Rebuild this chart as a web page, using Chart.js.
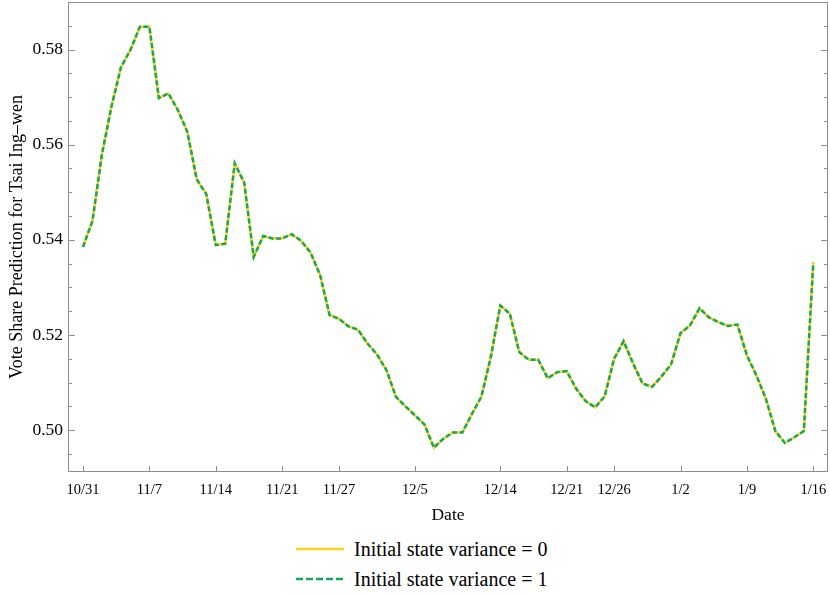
<!DOCTYPE html>
<html>
<head>
<meta charset="utf-8">
<title>Vote share prediction</title>
<script src="https://cdn.jsdelivr.net/npm/chart.js@4"></script>
<style>
  body { margin: 0; background: #fff; }
  #wrap { position: relative; width: 830px; height: 596px; }
  #legend { position: absolute; left: 0; top: 530px; width: 830px; height: 66px;
            font-family: 'Liberation Serif', 'Times New Roman', serif; font-size: 20px; color: #000; }
  .item { position: absolute; left: 296px; height: 24px; display: flex; align-items: center; white-space: nowrap; }
  .item svg { margin-right: 10px; }
</style>
</head>
<body>
<div id="wrap">
  <canvas id="voteChart" width="830" height="530"></canvas>
  <div id="legend">
    <div class="item" style="top:7px">
      <svg width="48" height="6"><line x1="0" y1="3" x2="48" y2="3" stroke="#ffd21a" stroke-width="2.5"/></svg>
      <span>Initial state variance = 0</span>
    </div>
    <div class="item" style="top:37px">
      <svg width="48" height="6"><line x1="0" y1="3" x2="48" y2="3" stroke="#14a85c" stroke-width="2.5" stroke-dasharray="7,3"/></svg>
      <span>Initial state variance = 1</span>
    </div>
  </div>
</div>
<script>
// fechas diarias del 10/31 al 1/16
const dates = [
  '10/31',
  '11/1', '11/2', '11/3', '11/4', '11/5', '11/6', '11/7', '11/8', '11/9', '11/10',
  '11/11', '11/12', '11/13', '11/14', '11/15', '11/16', '11/17', '11/18', '11/19', '11/20',
  '11/21', '11/22', '11/23', '11/24', '11/25', '11/26', '11/27', '11/28', '11/29', '11/30',
  '12/1', '12/2', '12/3', '12/4', '12/5', '12/6', '12/7', '12/8', '12/9', '12/10',
  '12/11', '12/12', '12/13', '12/14', '12/15', '12/16', '12/17', '12/18', '12/19', '12/20',
  '12/21', '12/22', '12/23', '12/24', '12/25', '12/26', '12/27', '12/28', '12/29', '12/30', '12/31',
  '1/1', '1/2', '1/3', '1/4', '1/5', '1/6', '1/7', '1/8', '1/9', '1/10',
  '1/11', '1/12', '1/13', '1/14', '1/15', '1/16'
];

const variance0 = [
  0.5385, 0.5440, 0.5580, 0.5680, 0.5763, 0.5799, 0.5848, 0.5848, 0.5698, 0.5708,
  0.5673, 0.5627, 0.5527, 0.5496, 0.5389, 0.5392, 0.5561, 0.5520, 0.5364, 0.5408,
  0.5403, 0.5403, 0.5412, 0.5398, 0.5373, 0.5326, 0.5242, 0.5234, 0.5218, 0.5211,
  0.5182, 0.5159, 0.5126, 0.5070, 0.5050, 0.5031, 0.5012, 0.4963, 0.4982, 0.4995,
  0.4995, 0.5034, 0.5070, 0.5154, 0.5262, 0.5245, 0.5164, 0.5148, 0.5148, 0.5109,
  0.5122, 0.5124, 0.5087, 0.5061, 0.5048, 0.5071, 0.5150, 0.5187, 0.5140, 0.5098,
  0.5091, 0.5113, 0.5138, 0.5204, 0.5220, 0.5256, 0.5237, 0.5227, 0.5219, 0.5222,
  0.5157, 0.5115, 0.5066, 0.4998, 0.4973, 0.4985, 0.4998, 0.5352
];

const variance1 = [
  0.5385, 0.5440, 0.5580, 0.5680, 0.5763, 0.5799, 0.5848, 0.5848, 0.5698, 0.5708,
  0.5673, 0.5627, 0.5527, 0.5496, 0.5389, 0.5392, 0.5561, 0.5520, 0.5364, 0.5408,
  0.5403, 0.5403, 0.5412, 0.5398, 0.5373, 0.5326, 0.5242, 0.5234, 0.5218, 0.5211,
  0.5182, 0.5159, 0.5126, 0.5070, 0.5050, 0.5031, 0.5012, 0.4963, 0.4982, 0.4995,
  0.4995, 0.5034, 0.5070, 0.5154, 0.5262, 0.5245, 0.5164, 0.5148, 0.5148, 0.5109,
  0.5122, 0.5124, 0.5087, 0.5061, 0.5048, 0.5071, 0.5150, 0.5187, 0.5140, 0.5098,
  0.5091, 0.5113, 0.5138, 0.5204, 0.5220, 0.5256, 0.5237, 0.5227, 0.5219, 0.5222,
  0.5157, 0.5115, 0.5066, 0.4998, 0.4973, 0.4985, 0.4998, 0.5352
];

const xTickLabels = ['10/31', '11/7', '11/14', '11/21', '11/27', '12/5', '12/14', '12/21', '12/26', '1/2', '1/9', '1/16'];
const yTickValues = [0.50, 0.52, 0.54, 0.56, 0.58];

const serif = "'Liberation Serif', 'Times New Roman', serif";
const frameColor = '#8c8c8c';

function toPoints(values) {
    return values.map((v, i) => ({ x: i, y: v }));
}

// marco y marcas hacia dentro, estilo Mathematica
const frameTicks = {
    id: 'frameTicks',
    afterDraw(chart) {
        const ctx = chart.ctx;
        const a = chart.chartArea;
        const xs = chart.scales.x;
        const ys = chart.scales.y;
        ctx.save();
        ctx.strokeStyle = frameColor;
        ctx.lineWidth = 1;
        ctx.strokeRect(a.left + 0.5, a.top + 0.5, a.right - a.left - 1, a.bottom - a.top - 1);
        ctx.beginPath();
        xTickLabels.forEach(lbl => {
            const px = Math.round(xs.getPixelForValue(dates.indexOf(lbl))) + 0.5;
            ctx.moveTo(px, a.bottom);
            ctx.lineTo(px, a.bottom - 6);
        });
        for (let k = 99; k <= 117; k++) {
            const py = Math.round(ys.getPixelForValue(k * 0.005)) + 0.5;
            const len = (k % 4 === 0) ? 7 : 4;
            ctx.moveTo(a.left, py);
            ctx.lineTo(a.left + len, py);
            ctx.moveTo(a.right, py);
            ctx.lineTo(a.right - len, py);
        }
        ctx.stroke();
        ctx.restore();
    }
};

new Chart(document.getElementById('voteChart'), {
    type: 'line',
    data: {
        datasets: [{
            label: 'Initial state variance = 0',
            data: toPoints(variance0),
            borderColor: '#ffd21a',
            borderWidth: 2.5,
            pointRadius: 0,
            fill: false,
            order: 2
        }, {
            label: 'Initial state variance = 1',
            data: toPoints(variance1),
            borderColor: '#14a85c',
            borderWidth: 2.5,
            borderDash: [5, 2.5],
            pointRadius: 0,
            fill: false,
            order: 1
        }]
    },
    options: {
        responsive: false,
        animation: false,
        devicePixelRatio: 1,
        layout: { padding: { left: 0, right: 2, top: 2, bottom: 0 } },
        plugins: {
            legend: { display: false },
            tooltip: { enabled: false }
        },
        scales: {
            x: {
                type: 'linear',
                min: -1.58,
                max: 78.55,
                grid: { display: false, drawTicks: false },
                border: { display: false },
                afterBuildTicks: s => { s.ticks = xTickLabels.map(l => ({ value: dates.indexOf(l) })); },
                ticks: {
                    autoSkip: false,
                    maxRotation: 0,
                    padding: 9,
                    color: '#000',
                    font: { family: serif, size: 14.5 },
                    callback: v => dates[v]
                },
                title: {
                    display: true,
                    text: 'Date',
                    color: '#000',
                    font: { family: serif, size: 17.5 },
                    padding: { top: 0, bottom: 4 }
                },
                afterFit: s => { s.height = 58; s.paddingLeft = 0; s.paddingRight = 0; }
            },
            y: {
                min: 0.4912,
                max: 0.590,
                grid: { display: false, drawTicks: false },
                border: { display: false },
                afterBuildTicks: s => { s.ticks = yTickValues.map(v => ({ value: v })); },
                ticks: {
                    padding: 5,
                    color: '#000',
                    font: { family: serif, size: 17.5 },
                    callback: v => v.toFixed(2)
                },
                title: {
                    display: true,
                    text: 'Vote Share Prediction for Tsai Ing–wen',
                    color: '#000',
                    font: { family: serif, size: 18 },
                    padding: { top: 6, bottom: 0 }
                },
                afterFit: s => { s.width = 68; s.paddingTop = 0; s.paddingBottom = 0; }
            }
        }
    },
    plugins: [frameTicks]
});
</script>
</body>
</html>
